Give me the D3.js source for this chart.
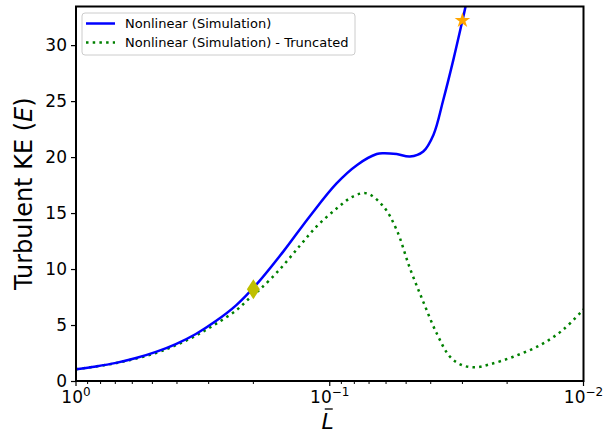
<!DOCTYPE html>
<html>
<head>
<meta charset="utf-8">
<script src="https://cdn.jsdelivr.net/npm/d3@7"></script>
<style>
body { margin: 0; background: #fff; }
text { font-family: "DejaVu Sans", sans-serif; fill: #000; }
</style>
</head>
<body>
<div id="container"></div>
<script>
const WIDTH = 605;
const HEIGHT = 434;
const LEFT = 76, RIGHT = 583.5, TOP = 6.5, BOTTOM = 381;

// full nonlinear simulation
var L_FULL = [1.0, 0.834, 0.695, 0.58, 0.484, 0.404, 0.337, 0.281, 0.234, 0.194, 0.152,
    0.12, 0.094, 0.078, 0.0653, 0.0615, 0.0545, 0.0483, 0.0428, 0.039, 0.0357, 0.0326, 0.03, 0.0288];
var E_FULL = [1.05, 1.3, 1.62, 2.05, 2.6, 3.3, 4.2, 5.35, 6.75, 8.65, 11.6,
    14.7, 17.65, 19.3, 20.27, 20.35, 20.27, 20.05, 20.5, 22.0, 25.1, 28.66, 32.2, 34.0];

// truncated
var L_TRUNC = [1.0, 0.695, 0.484, 0.404, 0.337, 0.281, 0.234, 0.208, 0.188, 0.157, 0.131,
    0.1127, 0.094, 0.0807, 0.0715, 0.0615, 0.0545, 0.0483, 0.0428, 0.0379, 0.0336, 0.0302,
    0.0268, 0.0234, 0.0189, 0.0148, 0.012, 0.01];
var E_TRUNC = [1.05, 1.6, 2.5, 3.2, 4.05, 5.1, 6.3, 7.35, 8.2, 10.0, 12.1,
    13.8, 15.4, 16.5, 16.76, 15.6, 13.5, 10.06, 7.08, 4.26, 2.17, 1.43,
    1.22, 1.49, 2.17, 3.21, 4.6, 6.4];

var DIAMOND = {L: 0.2, E: 8.2};
var STAR = {L: 0.03, E: 32.2};

var Y_TICKS = [0, 5, 10, 15, 20, 25, 30];
var X_MAJOR = [{v: 1, exp: "0"}, {v: 0.1, exp: "\u22121"}, {v: 0.01, exp: "\u22122"}];
var LEGEND = ["Nonlinear (Simulation)", "Nonlinear (Simulation) - Truncated"];

var zip = function (xs, ys) {
    return xs.map(function (x, i) { return {x: x, y: ys[i]}; });
};

var XScale = d3.scaleLog().domain([1, 0.01]).range([LEFT, RIGHT]);
var YScale = d3.scaleLinear().domain([0, 33.45]).range([BOTTOM, TOP]);

var SVG = d3.select("#container").append("svg")
    .attr("width", WIDTH)
    .attr("height", HEIGHT);

SVG.append("clipPath").attr("id", "clip")
    .append("rect")
    .attr("x", LEFT).attr("y", TOP)
    .attr("width", RIGHT - LEFT).attr("height", BOTTOM - TOP);

var line = d3.line()
    .x(function (d) { return XScale(d.x); })
    .y(function (d) { return YScale(d.y); })
    .curve(d3.curveCatmullRom.alpha(0.5));

var plot = SVG.append("g").attr("clip-path", "url(#clip)");

plot.append("path")
    .datum(zip(L_TRUNC, E_TRUNC))
    .attr("d", line)
    .attr("fill", "none")
    .attr("stroke", "#008000")
    .attr("stroke-width", 2.5)
    .attr("stroke-dasharray", "2.5,4.2");

plot.append("path")
    .datum(zip(L_FULL, E_FULL))
    .attr("d", line)
    .attr("fill", "none")
    .attr("stroke", "#0000ff")
    .attr("stroke-width", 2.5);

// markers
var dx = XScale(DIAMOND.L), dy = YScale(DIAMOND.E);
SVG.append("path")
    .attr("d", "M" + dx + "," + (dy - 10) + "L" + (dx + 6.5) + "," + dy + "L" + dx + "," + (dy + 10) + "L" + (dx - 6.5) + "," + dy + "Z")
    .attr("fill", "#bfbf00");

SVG.append("path")
    .attr("transform", "translate(" + XScale(STAR.L) + "," + YScale(STAR.E) + ")")
    .attr("d", d3.symbol().type(d3.symbolStar).size(75))
    .attr("fill", "#ffa500");

// y axis
var YAxis = d3.axisLeft(YScale).tickValues(Y_TICKS).tickSize(5).tickPadding(4);
var gy = SVG.append("g").attr("transform", "translate(" + LEFT + ",0)").call(YAxis);
gy.select(".domain").remove();
gy.selectAll(".tick line").attr("stroke", "#000").attr("stroke-width", 1.2);
gy.selectAll(".tick text").style("font-size", "17px").attr("font-family", "DejaVu Sans");

// x axis: major + minor ticks on the log scale
var minor = [];
[1, 0.1].forEach(function (dec) {
    for (var k = 2; k <= 9; k++) minor.push(dec * k / 10);
});
var gx = SVG.append("g").attr("transform", "translate(0," + BOTTOM + ")");
gx.selectAll(".minor").data(minor).enter().append("line")
    .attr("x1", function (d) { return XScale(d); })
    .attr("x2", function (d) { return XScale(d); })
    .attr("y1", 0).attr("y2", 3)
    .attr("stroke", "#000").attr("stroke-width", 1);
gx.selectAll(".major").data(X_MAJOR).enter().append("line")
    .attr("x1", function (d) { return XScale(d.v); })
    .attr("x2", function (d) { return XScale(d.v); })
    .attr("y1", 0).attr("y2", 5)
    .attr("stroke", "#000").attr("stroke-width", 1.2);
var lbl = gx.selectAll(".lbl").data(X_MAJOR).enter().append("text")
    .attr("x", function (d) { return XScale(d.v); })
    .attr("y", 22)
    .attr("text-anchor", "middle")
    .style("font-size", "17px");
lbl.append("tspan").text("10");
lbl.append("tspan").attr("dy", -7).style("font-size", "12px").text(function (d) { return d.exp; });

// frame
SVG.append("rect")
    .attr("x", LEFT).attr("y", TOP)
    .attr("width", RIGHT - LEFT).attr("height", BOTTOM - TOP)
    .attr("fill", "none").attr("stroke", "#000").attr("stroke-width", 2);

// axis labels
SVG.append("text")
    .attr("x", (LEFT + RIGHT) / 2 - 2).attr("y", 429)
    .attr("text-anchor", "middle")
    .style("font-size", "22px").style("font-style", "italic")
    .text("L");
SVG.append("line")
    .attr("x1", (LEFT + RIGHT) / 2 - 5).attr("x2", (LEFT + RIGHT) / 2 + 3)
    .attr("y1", 409).attr("y2", 409)
    .attr("stroke", "#000").attr("stroke-width", 1.3);

var ylab = SVG.append("text")
    .attr("transform", "translate(32," + (TOP + BOTTOM) / 2 + ") rotate(-90)")
    .attr("text-anchor", "middle")
    .style("font-size", "24px");
ylab.append("tspan").text("Turbulent KE (");
ylab.append("tspan").style("font-style", "italic").text("E");
ylab.append("tspan").text(")");

// legend
var lg = SVG.append("g").attr("transform", "translate(82,13)");
lg.append("rect")
    .attr("width", 273).attr("height", 42).attr("rx", 3)
    .attr("fill", "#fff").attr("fill-opacity", 0.8)
    .attr("stroke", "#cccccc").attr("stroke-width", 1);
lg.append("line").attr("x1", 4).attr("x2", 33).attr("y1", 10.5).attr("y2", 10.5)
    .attr("stroke", "#0000ff").attr("stroke-width", 2.5);
lg.append("line").attr("x1", 4).attr("x2", 33).attr("y1", 29.5).attr("y2", 29.5)
    .attr("stroke", "#008000").attr("stroke-width", 2.5).attr("stroke-dasharray", "2.5,4.2");
lg.selectAll(".lt").data(LEGEND).enter().append("text")
    .attr("x", 43)
    .attr("y", function (d, i) { return 15 + i * 19; })
    .style("font-size", "13px")
    .text(function (d) { return d; });
</script>
</body>
</html>
